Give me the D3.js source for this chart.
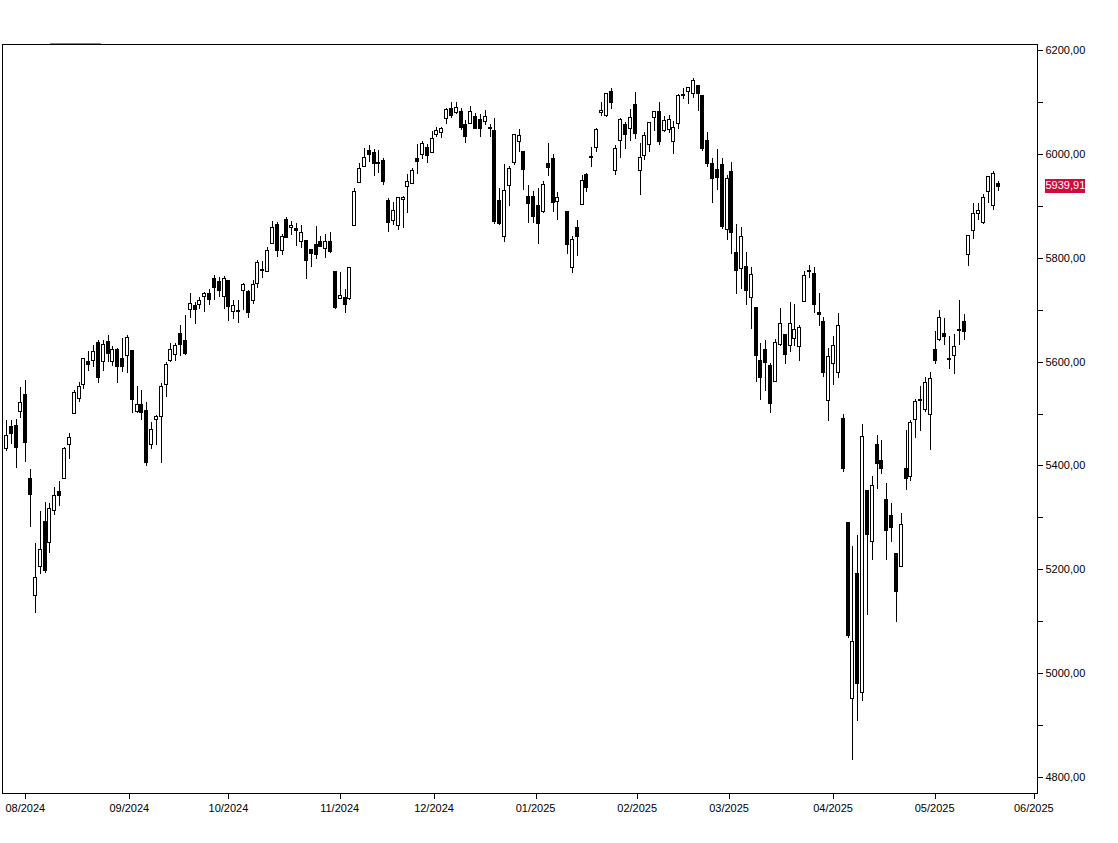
<!DOCTYPE html>
<html><head><meta charset="utf-8">
<script src="https://cdn.jsdelivr.net/npm/d3@7"></script>
<style>
body{margin:0;background:#fff}
svg{display:block}
text{font-family:"Liberation Sans",Arial,sans-serif;font-size:11px;fill:#000}
</style>
</head><body>
<svg id="chart" width="1118" height="843"></svg>
<script>
// ---------- DATA ----------
// trading-day slots (weekdays minus exchange holidays); 2025-01-09 has a slot but no candle
const firstDay = "2024-07-26";
const lastDay = "2025-06-02";
const holidays = ["2024-09-02","2024-11-28","2024-12-25","2025-01-01","2025-01-20","2025-02-17","2025-04-18","2025-05-26"];

const openS = [
5433.67,5476.55,5478.73,5505.59,
5537.84,5376.63,5151.14,5206.42,5293.13,5252.57,5314.80,5351.90,5376.98,5442.97,5501.13,5530.50,5557.23,5602.88,5603.09,5637.77,5602.99,5639.66,5602.89,5624.51,5607.30,5612.74,
5623.89,5506.68,5520.08,5507.33,5442.07,5490.51,5496.42,5557.48,5603.34,5615.21,5655.51,5641.68,5702.63,5709.27,5711.90,5727.03,5733.65,5762.22,5755.36,5726.52,
5757.73,5698.86,5698.19,5737.84,5737.80,5719.14,5751.80,5778.36,5775.09,5829.81,5866.74,5816.58,5875.62,5859.43,5857.82,5832.70,5834.50,5817.80,5826.75,5833.93,5819.68,5832.65,5775.34,
5723.22,5725.15,5722.43,5864.89,5947.21,5976.76,6008.86,6003.60,5985.75,5989.68,5912.79,5874.17,5863.04,5914.10,5940.00,5944.36,5992.28,6000.03,6014.11,6003.98,
6040.11,6042.97,6069.39,6089.03,6081.38,6083.01,6057.59,6060.15,6074.29,6068.17,6063.79,6052.55,6047.65,5912.71,5842.00,5940.25,5984.63,6024.97,6006.17,5920.67,5919.74,
5903.26,5891.07,5982.81,5993.26,5910.66,null,5890.10,5782.70,5859.26,5905.21,5961.49,5995.00,6014.12,6081.39,6076.32,6121.43,5969.04,6026.97,6057.70,6050.75,6096.79,
5969.65,5998.14,6020.45,6072.22,6083.13,6046.40,6049.32,6025.08,6060.59,6115.52,6121.60,6117.76,6134.50,6114.10,6026.69,5982.73,5970.87,5981.88,5856.74,
5968.33,5811.98,5781.43,5785.87,5726.01,5705.37,5603.65,5624.84,5594.45,5563.85,5635.60,5654.53,5632.37,5646.92,5630.73,5718.08,5775.86,5771.66,5695.64,5679.52,5527.91,
5597.53,5580.76,5492.74,5292.14,4953.79,5193.57,4965.28,5353.15,5255.56,5441.96,5411.99,5335.75,5305.45,5232.94,5207.67,5395.92,5381.38,5489.73,5529.22,5508.87,5499.44,
5625.14,5645.03,5655.32,5605.88,5614.30,5663.94,5679.37,5807.65,5854.06,5887.54,5869.58,5929.09,5902.88,5944.66
];
const highS = [
5488.32,5487.74,5489.46,5551.51,
5566.16,5395.03,5250.89,5312.34,5330.64,5328.03,5358.70,5371.20,5436.50,5463.22,5546.23,5561.98,5608.30,5620.51,5632.68,5643.22,5641.82,5651.62,5631.18,5627.03,5646.95,5651.37,
5623.89,5552.99,5546.30,5522.47,5484.20,5497.91,5560.41,5600.71,5636.27,5636.05,5670.81,5689.75,5733.57,5715.14,5725.36,5735.32,5741.03,5767.37,5764.76,5765.14,
5757.73,5719.14,5718.78,5753.20,5739.34,5757.60,5796.80,5795.03,5822.13,5871.41,5870.36,5846.52,5878.46,5872.17,5866.92,5863.04,5834.85,5817.80,5862.82,5842.92,5847.19,5850.94,5775.34,
5772.70,5741.43,5783.44,5936.14,5983.84,6012.45,6017.31,6009.92,6008.19,5993.88,5915.90,5908.12,5917.35,5920.71,5962.81,5972.90,6020.75,6025.42,6020.16,6044.17,
6053.58,6052.07,6089.84,6099.97,6099.97,6088.51,6065.40,6092.59,6079.68,6078.58,6085.19,6057.68,6070.67,5935.52,5982.06,5978.25,6040.10,6049.75,6006.17,5940.79,5929.74,
5935.09,5949.34,6021.04,6000.68,5927.89,null,5890.10,5842.01,5872.76,5960.61,5964.69,6014.96,6051.51,6100.81,6118.73,6128.18,6017.17,6069.90,6062.83,6086.64,6120.91,
6022.13,6042.48,6062.86,6084.03,6101.28,6073.38,6076.28,6063.40,6116.91,6127.47,6129.63,6147.43,6134.50,6114.82,6043.65,5992.65,6009.82,5993.69,5959.40,
5986.09,5865.08,5860.59,5812.08,5783.01,5705.37,5636.30,5642.19,5597.78,5645.27,5703.52,5654.53,5715.33,5711.15,5670.84,5775.14,5787.71,5783.62,5732.28,5685.89,5627.56,
5650.57,5695.31,5499.53,5292.14,5246.57,5267.47,5481.34,5353.15,5381.46,5459.46,5450.41,5367.24,5328.31,5232.94,5309.60,5469.69,5489.40,5528.11,5553.66,5571.95,5581.84,
5658.91,5700.70,5683.91,5649.62,5654.14,5720.10,5691.68,5845.14,5906.63,5906.83,5924.61,5958.62,5968.61,5949.00
];
const lowS = [
5430.70,5444.44,5398.36,5493.75,
5410.42,5283.37,5119.26,5193.56,5195.54,5233.85,5306.60,5324.40,5376.98,5415.23,5501.13,5525.21,5550.74,5585.50,5591.57,5560.95,5585.16,5602.34,5593.48,5560.95,5583.71,5581.79,
5504.33,5503.66,5490.35,5402.62,5434.49,5441.72,5406.96,5535.50,5601.65,5604.53,5614.05,5615.08,5686.42,5674.49,5704.94,5698.99,5712.06,5721.01,5727.77,5703.53,
5681.28,5684.10,5677.37,5702.87,5686.85,5714.56,5745.02,5764.76,5775.09,5829.81,5804.48,5808.34,5840.25,5846.11,5824.78,5821.17,5762.41,5784.92,5799.98,5823.08,5802.17,5811.28,5703.69,
5723.22,5696.51,5722.10,5864.89,5947.21,5976.76,5986.69,5960.08,5965.91,5942.28,5853.01,5865.95,5855.35,5860.25,5889.57,5944.36,5963.91,5992.27,5984.87,6003.98,
6035.33,6033.39,6061.06,6071.99,6079.98,6048.63,6024.63,6060.15,6051.25,6035.77,6059.14,6035.19,5867.79,5866.07,5832.30,5902.57,5981.44,6007.37,5932.95,5869.16,5868.86,
5829.53,5888.66,5960.01,5890.68,5874.78,null,5809.72,5773.31,5805.23,5905.21,5930.28,5978.00,6006.88,6076.13,6074.67,6088.74,5962.92,5994.48,6012.96,6027.46,6030.93,
5923.93,5990.87,6007.06,6046.83,6019.96,6044.84,6042.34,6003.00,6051.58,6107.62,6099.51,6111.15,6084.59,6008.56,5977.83,5908.49,5932.69,5858.78,5837.66,
5810.91,5732.59,5742.35,5711.64,5666.29,5564.02,5528.41,5546.09,5504.65,5563.85,5632.12,5597.76,5622.20,5632.52,5603.10,5718.08,5764.77,5695.47,5670.94,5572.42,5488.73,
5558.52,5571.48,5390.83,5069.90,4835.04,4910.42,4948.43,5115.27,5220.77,5358.02,5386.44,5220.79,5255.58,5101.63,5207.67,5356.21,5371.96,5455.86,5468.64,5505.70,5433.24,
5597.35,5641.74,5634.48,5587.71,5578.64,5635.69,5644.67,5786.08,5839.32,5875.30,5867.44,5907.35,5895.69,5931.00
];
const closeS = [
5459.10,5463.54,5436.44,5522.30,
5446.68,5346.56,5186.33,5240.03,5199.50,5319.31,5344.16,5344.39,5434.43,5455.21,5543.22,5554.25,5608.25,5597.12,5620.85,5570.64,5634.61,5616.84,5625.80,5592.18,5591.96,5648.40,
5528.93,5520.07,5503.41,5408.42,5471.05,5495.52,5554.13,5595.76,5626.02,5633.09,5634.58,5618.26,5713.64,5702.55,5718.57,5732.93,5722.26,5745.37,5738.17,5762.48,
5708.75,5709.54,5699.94,5751.07,5695.94,5751.13,5792.04,5780.05,5815.03,5859.85,5815.26,5842.47,5841.47,5864.67,5853.98,5851.20,5797.42,5809.86,5808.12,5823.52,5832.92,5813.67,5705.45,
5728.80,5712.69,5782.76,5929.04,5973.10,5995.54,6001.35,5983.99,5985.38,5949.17,5870.62,5893.62,5916.98,5917.11,5948.71,5969.34,5987.37,6021.63,5998.74,6032.38,
6047.15,6049.88,6086.49,6075.11,6090.27,6052.85,6034.91,6084.19,6051.25,6051.09,6074.08,6050.61,5872.16,5867.08,5930.85,5974.07,6040.04,6037.59,5970.84,5906.94,5881.63,
5868.55,5942.47,5975.38,5909.03,5918.25,null,5827.04,5836.22,5842.91,5949.91,5937.34,5996.66,6049.24,6086.37,6118.71,6101.24,6012.28,6067.70,6039.31,6071.17,6040.53,
5994.57,6037.88,6061.48,6083.57,6025.99,6066.44,6068.50,6051.97,6115.07,6114.63,6129.58,6144.15,6117.52,6013.13,5983.25,5955.25,5956.06,5861.57,5954.50,
5849.72,5778.15,5842.63,5738.52,5770.20,5614.56,5572.07,5599.30,5521.52,5638.94,5675.12,5614.66,5675.29,5662.89,5667.56,5767.57,5776.65,5712.20,5693.31,5580.94,5611.85,
5633.07,5670.97,5396.52,5074.08,5062.25,4982.77,5456.90,5268.05,5363.36,5405.97,5396.63,5275.70,5282.70,5158.20,5287.76,5375.86,5484.77,5525.21,5528.75,5560.83,5569.06,
5604.14,5686.67,5650.38,5606.91,5631.28,5663.94,5659.91,5844.19,5886.55,5892.58,5916.93,5958.38,5963.60,5939.91
];

const yTickValues = [4800,4900,5000,5100,5200,5300,5400,5500,5600,5700,5800,5900,6000,6100,6200];
const yLabelStep = 200;
const monthStarts = ["2024-08-01","2024-09-01","2024-10-01","2024-11-01","2024-12-01","2025-01-01","2025-02-01","2025-03-01","2025-04-01","2025-05-01","2025-06-01"];
const monthLabels = ["08/2024","09/2024","10/2024","11/2024","12/2024","01/2025","02/2025","03/2025","04/2025","05/2025","06/2025"];
const lastPrice = 5939.91;

// ---------- BUILD ----------
const parse = d3.timeParse("%Y-%m-%d"), fmt = d3.timeFormat("%Y-%m-%d");
const slots = d3.timeDay.range(parse(firstDay), d3.timeDay.offset(parse(lastDay), 1))
  .filter(d => d.getDay() !== 0 && d.getDay() !== 6 && !holidays.includes(fmt(d)))
  .map(fmt);

const candles = [];
for (let i = 0; i < openS.length; i++) {
  if (openS[i] == null) continue;
  candles.push({date: slots[i], o: openS[i], h: highS[i], l: lowS[i], c: closeS[i]});
}

const svg = d3.select("#chart");
const L = 2.5, R = 1037.5, T = 44.5, B = 793.5;

const x = d3.scalePoint().domain(slots).range([5.95, 1036.2]);
const y = d3.scaleLinear().domain([4800, 6200]).range([777.5, 50.5]);

svg.append("rect").attr("width", 1118).attr("height", 843).attr("fill", "#fff");

// green marker line above frame
svg.append("line").attr("x1", 50).attr("x2", 101).attr("y1", 43.5).attr("y2", 43.5)
  .attr("stroke", "#1fd21f").attr("stroke-width", 1);

// frame
svg.append("rect").attr("x", L).attr("y", T).attr("width", R - L).attr("height", B - T)
  .attr("fill", "none").attr("stroke", "#000").attr("stroke-width", 1)
  .attr("shape-rendering", "crispEdges");

// candles
const g = svg.append("g").attr("shape-rendering", "crispEdges");
const cg = g.selectAll("g.c").data(candles).join("g").attr("class", "c");
cg.append("line")
  .attr("x1", d => Math.round(x(d.date)) + 0.5).attr("x2", d => Math.round(x(d.date)) + 0.5)
  .attr("y1", d => Math.round(y(d.h))).attr("y2", d => Math.round(y(d.l)) + 1)
  .attr("stroke", "#000").attr("stroke-width", 1);
cg.append("rect")
  .attr("x", d => Math.round(x(d.date)) - 1.5)
  .attr("width", 3)
  .attr("y", d => Math.round(y(Math.max(d.o, d.c))) + 0.5)
  .attr("height", d => Math.max(Math.round(y(Math.min(d.o, d.c))) - Math.round(y(Math.max(d.o, d.c))), 1))
  .attr("fill", d => d.c < d.o ? "#000" : "#fff")
  .attr("stroke", "#000").attr("stroke-width", 1);

// y axis (right)
const numFmt = v => d3.format(".2f")(v).replace(".", ",");
const yAxis = d3.axisRight(y).tickValues(yTickValues).tickSize(5).tickPadding(3).offset(0)
  .tickFormat(v => v % yLabelStep === 0 ? numFmt(v) : "");
const ya = svg.append("g").attr("transform", `translate(${R},0)`).call(yAxis);
ya.select(".domain").remove();
ya.selectAll("line").attr("shape-rendering", "crispEdges").attr("stroke", "#000");
ya.selectAll("text").attr("font-family", null).attr("font-size", null).attr("fill", "#000");

// x axis month ticks
const monthPos = monthStarts.map(ms => {
  const j = slots.findIndex(s => s >= ms);
  if (slots[j] === ms) return x(slots[j]);
  return (x(slots[j - 1]) + x(slots[j])) / 2;
});
const xa = svg.append("g");
xa.selectAll("line").data(monthPos).join("line")
  .attr("x1", p => Math.round(p) + 0.5).attr("x2", p => Math.round(p) + 0.5)
  .attr("y1", B).attr("y2", B + 5.5)
  .attr("stroke", "#000").attr("shape-rendering", "crispEdges");
xa.selectAll("text").data(monthLabels).join("text")
  .attr("x", (d, i) => monthPos[i]).attr("y", 812)
  .attr("text-anchor", "middle").text(d => d);

// last price tag
const py = y(lastPrice);
svg.append("rect").attr("x", 1045).attr("y", Math.round(py) - 7).attr("width", 40).attr("height", 14)
  .attr("fill", "#d20a3c");
svg.append("text").attr("x", 1045.5).attr("y", py).attr("dy", "0.35em")
  .style("fill", "#fff").text(numFmt(lastPrice));
</script>
</body></html>
